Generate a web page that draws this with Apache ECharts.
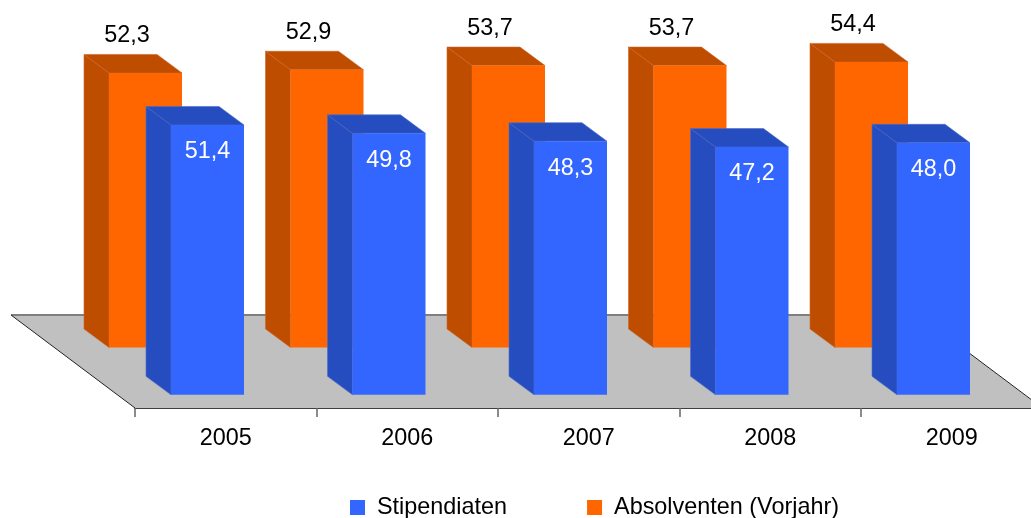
<!DOCTYPE html>
<html>
  <head>
    <meta charset="utf-8" />
    <title>ECharts</title>
    <script src="https://cdn.jsdelivr.net/npm/echarts@6/dist/echarts.min.js"></script>
    <style>html,body{margin:0;padding:0;background:#fff;overflow:hidden}</style>
  </head>
  <body>
    <div id="main" style="width:1031px;height:518px;"></div>
    <script type="text/javascript">
var years = ['2005', '2006', '2007', '2008', '2009'];
var stipendiaten = [51.4, 49.8, 48.3, 47.2, 48.0];
var absolventen = [52.3, 52.9, 53.7, 53.7, 54.4];

var chart = echarts.init(document.getElementById('main'));
var FONT = '"Liberation Sans", Arial, sans-serif';
var FONT_SIZE = 23.4;
var DX = 25, DY = 18.5, BAR_W = 73;

function toRows(values) {
  return values.map(function (v, i) { return [i, v]; });
}

// one 3D box: front, top and left faces plus the value text
function barItem(opt) {
  return function (params, api) {
    var i = api.value(0), v = api.value(1);
    var top = api.coord([i, v]);
    var bottom = api.coord([i, 0]);
    var x0 = top[0] + opt.dx - BAR_W / 2, x1 = x0 + BAR_W;
    var y0 = top[1] + opt.dy, y1 = bottom[1] + opt.dy;
    return {
      type: 'group',
      children: [
        { type: 'polygon', shape: { points: [[x0, y0], [x0 - DX, y0 - DY], [x0 - DX, y1 - DY], [x0, y1]] },
          style: { fill: opt.side, stroke: opt.edge, lineWidth: 0.6 } },
        { type: 'polygon', shape: { points: [[x0, y0], [x1, y0], [x1 - DX, y0 - DY], [x0 - DX, y0 - DY]] },
          style: { fill: opt.side, stroke: opt.edge, lineWidth: 0.6 } },
        { type: 'rect', shape: { x: x0, y: y0, width: BAR_W, height: y1 - y0 },
          style: { fill: opt.front } },
        { type: 'text', x: x0 + opt.labelX, y: y0 + opt.labelY,
          style: { text: v.toFixed(1).replace('.', ','), fill: opt.labelColor, font: FONT_SIZE + 'px ' + FONT,
            textAlign: 'center', textVerticalAlign: 'middle' } }
      ]
    };
  };
}

var option = {
  animation: false,
  backgroundColor: '#fff',
  textStyle: { fontFamily: FONT },
  grid: { left: 135, top: 40.5, width: 907.5, height: 367.5, outerBoundsMode: 'none' },
  xAxis: {
    type: 'category',
    data: years,
    axisLine: { show: true, lineStyle: { color: '#000', width: 1.5 } },
    axisTick: { show: true, length: 9, lineStyle: { color: '#666', width: 1.5 } },
    axisLabel: { color: '#000', fontSize: FONT_SIZE, fontFamily: FONT, margin: 19 }
  },
  yAxis: { type: 'value', min: 0, max: 70, show: false },
  legend: {
    data: ['Stipendiaten', 'Absolventen (Vorjahr)'],
    left: 345, top: 491,
    icon: 'rect',
    itemWidth: 15, itemHeight: 15, itemGap: 80,
    textStyle: { color: '#000', fontSize: FONT_SIZE, fontFamily: FONT, padding: [0, 0, 0, 7] }
  },
  series: [
    {
      type: 'custom',
      name: 'floor',
      silent: true,
      clip: false,
      data: [[0, 0]],
      encode: { x: 0, y: 1 },
      renderItem: function (params, api) {
        var c = params.coordSys;
        var fy = c.y + c.height, by = fy - 93;
        var lx = c.x - 124, rx = c.x + c.width;
        return {
          type: 'group',
          children: [
            { type: 'polygon', shape: { points: [[lx, by], [rx - 124, by], [rx, fy], [c.x, fy]] },
              style: { fill: '#c0c0c0' } },
            { type: 'line', shape: { x1: lx, y1: by, x2: rx - 124, y2: by },
              style: { stroke: '#7f7f7f', lineWidth: 2 } },
            { type: 'line', shape: { x1: lx, y1: by, x2: c.x, y2: fy },
              style: { stroke: '#222', lineWidth: 1 } },
            { type: 'line', shape: { x1: rx - 124, y1: by, x2: rx, y2: fy },
              style: { stroke: '#222', lineWidth: 1 } }
          ]
        };
      }
    },
    {
      type: 'custom',
      name: 'Absolventen (Vorjahr)',
      clip: false,
      itemStyle: { color: '#ff6600' },
      data: toRows(absolventen),
      encode: { x: 0, y: 1 },
      renderItem: barItem({ dx: -80.25, dy: -60.5, front: '#ff6600', side: '#bf4d00', edge: '#c9642a',
        labelX: 18, labelY: -37, labelColor: '#000' })
    },
    {
      type: 'custom',
      name: 'Stipendiaten',
      clip: false,
      itemStyle: { color: '#3366ff' },
      data: toRows(stipendiaten),
      encode: { x: 0, y: 1 },
      renderItem: barItem({ dx: -18.25, dy: -13.2, front: '#3366ff', side: '#264dbf', edge: '#4a6cc8',
        labelX: 36.5, labelY: 27, labelColor: '#fff' })
    }
  ]
};
chart.setOption(option);
    </script>
  </body>
</html>
